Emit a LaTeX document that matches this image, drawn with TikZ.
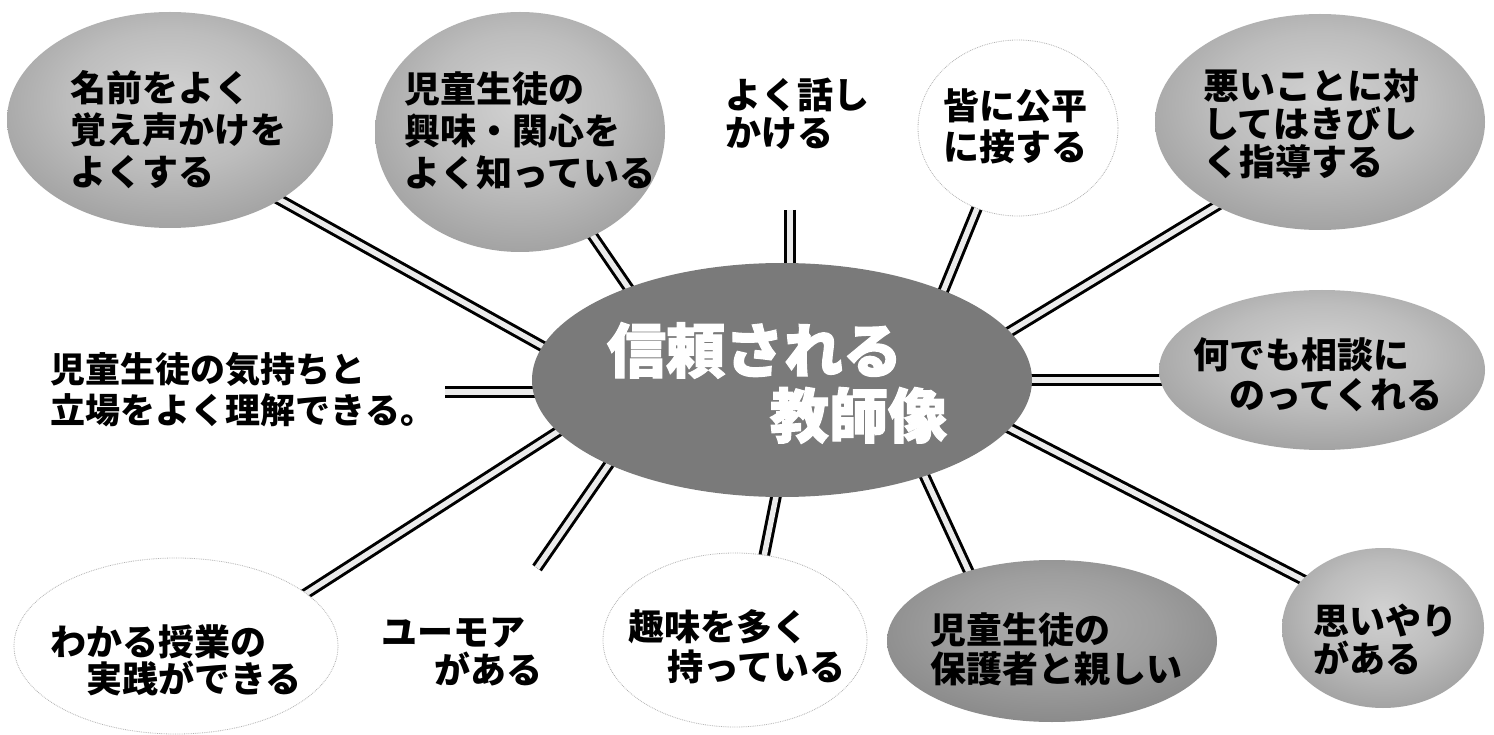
\documentclass[tikz,border=0pt]{standalone}
\usepackage{fontspec}
\newfontfamily\jp{Noto Sans CJK JP}
\usetikzlibrary{shapes.geometric}
\pgfdeclarelayer{bg}
\pgfsetlayers{bg,main}
\pgfdeclareradialshading{bubdark}{\pgfpoint{0bp}{6bp}}{color(0bp)=(black!18); color(16bp)=(black!26); color(36bp)=(black!42); color(50bp)=(black!60); color(72bp)=(black!60)}
\pgfdeclareradialshading{bubdarker}{\pgfpoint{0bp}{6bp}}{color(0bp)=(black!32); color(16bp)=(black!38); color(36bp)=(black!50); color(50bp)=(black!66); color(72bp)=(black!66)}
\pgfdeclareradialshading{bublight}{\pgfpoint{0bp}{0bp}}{color(0bp)=(white); color(38bp)=(white); color(47bp)=(black!5); color(50bp)=(black!14); color(72bp)=(black!14)}
\newcommand\heavytext[1]{\special{pdf:literal direct 2 Tr 1 G 1.2 w}#1\special{pdf:literal direct 0 Tr 1 w 0 G}}
\begin{document}
\begin{tikzpicture}[x=1pt,y=-1pt,
  bubble/.style={ellipse, inner sep=0pt, draw=none},
  dark/.style={bubble, shade, shading=bubdark},
  darker/.style={bubble, shade, shading=bubdarker},
  light/.style={bubble, shade, shading=bublight, draw=black!30, densely dotted, line width=0.8pt},
  spoke/.style={draw=black, line width=3pt, double=black!8, double distance=5.5pt},
  btext/.style={font=\jp\bfseries\fontsize{36pt}{#1}\selectfont, align=left, inner sep=0pt, text=black},
  btext/.default=40pt,
  title/.style={font=\jp\bfseries\fontsize{59pt}{65pt}\selectfont, align=left, inner sep=0pt}]
\useasboundingbox (0,0) rectangle (1494,735);
% centre
\node[ellipse, fill=black!52, minimum width=500pt, minimum height=234pt, inner sep=0pt] (c) at (782,380) {};
\node[title, text=white] (ct) at (777,383) {\heavytext{信頼される}\\\hspace*{163pt}\heavytext{教師像}};
% bubbles
\node[dark, minimum width=326pt, minimum height=216pt] (b1) at (170,120) {};
\node[dark, minimum width=290pt, minimum height=240pt] (b2) at (520,132) {};
\node[light, minimum width=200pt, minimum height=176pt] (b4) at (1018,128) {};
\node[dark, minimum width=330pt, minimum height=216pt] (b5) at (1320,122) {};
\node[dark, minimum width=326pt, minimum height=160pt] (b6) at (1322,370) {};
\node[dark, minimum width=202pt, minimum height=160pt] (b7) at (1383,628) {};
\node[darker, minimum width=330pt, minimum height=162pt] (b8) at (1052,641) {};
\node[light, minimum width=264pt, minimum height=174pt] (b9) at (735,640) {};
\node[light, minimum width=324pt, minimum height=176pt] (b11) at (176,646) {};
\coordinate (k3) at (790,210);
\coordinate (k10) at (537,568);
\coordinate (k12) at (445,392);
% texts
\node[btext=42pt] (t1) at (178,130) {名前をよく\\覚え声かけを\\よくする};
\node[btext=42pt] (t2) at (530,131) {児童生徒の\\興味・関心を\\よく知っている};
\node[btext=38pt] (t3) at (797,114) {よく話し\\かける};
\node[btext=41pt] (t4) at (1015,126) {皆に公平\\に接する};
\node[btext=38pt] (t5) at (1311,124) {悪いことに対\\してはきびし\\く指導する};
\node[btext=40pt] (t6) at (1318,375) {何でも相談に\\\hspace*{36pt}のってくれる};
\node[btext=38pt] (t7) at (1385,640) {思いやり\\がある};
\node[btext=39pt] (t8) at (1056,649) {児童生徒の\\保護者と親しい};
\node[btext=40pt] (t9) at (737,647) {趣味を多く\\\hspace*{39pt}持っている};
\node[btext=38pt] (t10) at (462,652) {ユーモア\\\hspace*{53pt}がある};
\node[btext=37pt] (t11) at (176,660) {わかる授業の\\\hspace*{36pt}実践ができる};
\node[font=\jp\bfseries\fontsize{35pt}{41pt}\selectfont, align=left, inner sep=0pt] (t12) at (243,390) {児童生徒の気持ちと\\立場をよく理解できる。};
% spokes
\begin{pgfonlayer}{bg}
\fill[white] (0,0) rectangle (1494,735);
\draw[spoke, shorten <=-14pt, shorten >=-14pt] (c.172) -- (b1.-36);
\draw[spoke, shorten <=-14pt, shorten >=-14pt] (c.149) -- (b2.-55);
\draw[spoke, shorten >=-14pt] (k3) -- (k3 |- c.north);
\draw[spoke, shorten <=-14pt, shorten >=-14pt] (c.29) -- (b4.-117);
\draw[spoke, shorten <=-14pt, shorten >=-14pt] (c.12) -- (b5.-141);
\draw[spoke, shorten <=-14pt, shorten >=-14pt] (c.east) -- (c.east -| b6.west);
\draw[spoke, shorten <=-14pt, shorten >=-14pt] (c.-12) -- (b7.149);
\draw[spoke, shorten <=-14pt, shorten >=-14pt] (c.-34) -- (b8.140);
\draw[spoke, shorten <=-14pt, shorten >=-14pt] (c.-93) -- (b9.71);
\draw[spoke, shorten <=-14pt] (c.206) -- (k10);
\draw[spoke, shorten <=-14pt, shorten >=-14pt] (c.193) -- (b11.22);
\draw[spoke, shorten >=-14pt] (k12) -- (k12 -| c.west);
\end{pgfonlayer}
\end{tikzpicture}
\end{document}
